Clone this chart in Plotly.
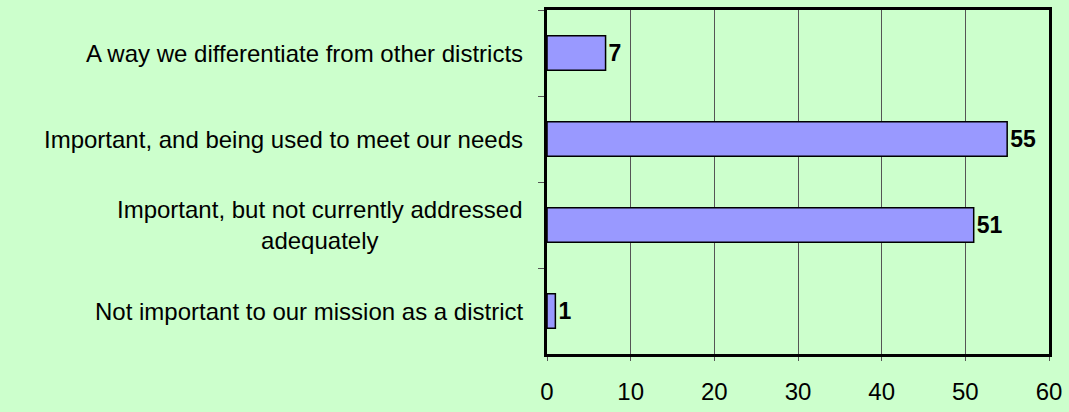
import plotly.graph_objects as go

categories = [
    "A way we differentiate from other districts",
    "Important, and being used to meet our needs",
    "Important, but not currently addressed<br>adequately",
    "Not important to our mission as a district",
]
values = [7, 55, 51, 1]
x_ticks = [0, 10, 20, 30, 40, 50, 60]

bg = "#CCFFCC"
FONT = "Liberation Sans, Arial, sans-serif"
fig = go.Figure()
fig.add_trace(go.Bar(
    x=values, y=categories, orientation="h",
    marker=dict(color="#9999FF", line=dict(color="black", width=1.5)),
    text=[str(v) for v in values], textposition="outside",
    textfont=dict(family=FONT, size=23, color="black", weight="bold"),
    cliponaxis=False,
))

for c in categories:
    fig.add_annotation(
        x=0, xref="paper", y=c, yref="y", xanchor="right", xshift=-22,
        text=c, showarrow=False, align="center",
        font=dict(family=FONT, size=24, color="black"),
    )

fig.update_layout(
    width=1069, height=412,
    margin=dict(l=547, r=15, t=7, b=55),
    paper_bgcolor=bg, plot_bgcolor=bg,
    bargap=0.6, showlegend=False,
    font=dict(family=FONT, size=24, color="black"),
)
fig.update_xaxes(
    range=[0, 60], tickvals=x_ticks, showgrid=True, gridcolor="#555555", gridwidth=1,
    showline=True, linecolor="black", linewidth=3, mirror=True,
    ticks="outside", ticklen=4, tickcolor="#555555", tickfont=dict(size=24),
    zeroline=False, ticklabelstandoff=10,
)
fig.update_yaxes(
    autorange="reversed", showticklabels=False, tickson="boundaries",
    ticks="outside", ticklen=6, tickcolor="#555555",
    showline=True, linecolor="black", linewidth=3, mirror=True, showgrid=False,
)

fig.write_html("out.html", config={"displayModeBar": False},
               post_script="document.body.style.margin='0';")
